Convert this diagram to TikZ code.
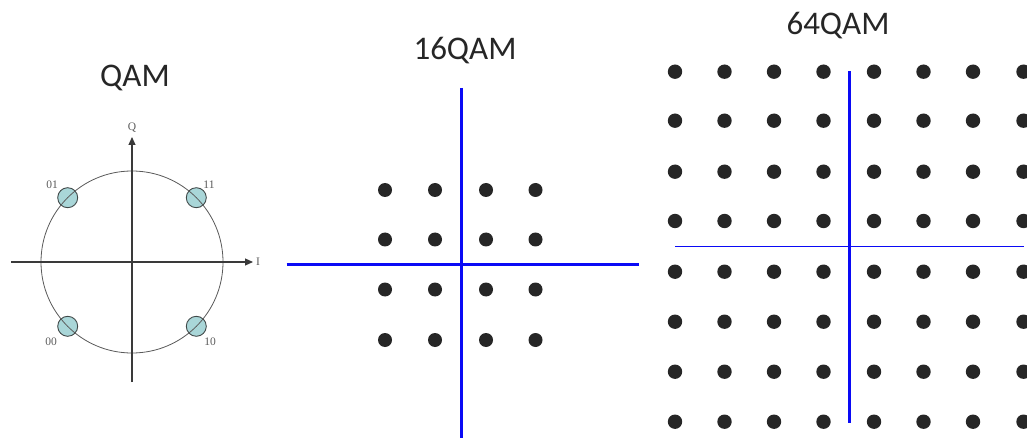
\documentclass[tikz,border=0pt]{standalone}
\usepackage{fontspec}
\setmainfont{Carlito}
\newfontfamily\lblfont{Liberation Serif}
\usetikzlibrary{arrows.meta}
\definecolor{txt}{HTML}{262626}
\definecolor{dotc}{HTML}{262626}
\definecolor{axisg}{HTML}{3A3A3A}
\definecolor{circg}{HTML}{5A5A5A}
\definecolor{markf}{HTML}{A9D6D8}
\definecolor{markd}{HTML}{404848}
\definecolor{qblue}{RGB}{10,10,245}
\tikzset{
  title/.style={anchor=base, text=txt, font=\fontsize{33}{33}\selectfont, inner sep=0pt},
  bitlbl/.style={text=circg, font=\lblfont\fontsize{11.5}{11.5}\selectfont, inner sep=0pt},
  axisline/.style={draw=axisg, line width=1.1pt},
  markc/.style={circle, fill=markf, draw=markd, line width=0.9pt, minimum size=20pt, inner sep=0pt},
  cdot/.style={fill=dotc},
  bluethick/.style={draw=qblue, line width=3pt},
  bluethin/.style={draw=qblue, line width=1.6pt},
}
\begin{document}
\begin{tikzpicture}[x=1pt,y=-1pt]
\clip (0,0) rectangle (1027,438);
\fill[white] (0,0) rectangle (1027,438);
% ---------- QAM ----------
\node[title] (t1) at (135,87) {QAM};
\node[markc] (m11) at (196.3,197.7) {};
\node[markc] (m01) at (67.7,197.7) {};
\node[markc] (m00) at (67.7,326.3) {};
\node[markc] (m10) at (196.3,326.3) {};
\draw[circg, line width=0.8pt] (132,262) circle (91);
\coordinate (xl) at (11,262);
\coordinate (xr) at (253,262);
\coordinate (yb) at (132,382);
\coordinate (yt) at (132,137);
\draw[axisline, -{Triangle[length=8pt,width=7pt]}] (xl) -- (xr);
\draw[axisline, -{Triangle[length=8pt,width=7pt]}] (yb) -- (yt);
\node[bitlbl] (lq) at (132,128) {Q};
\node[bitlbl] (li) at (258,262) {I};
\node[bitlbl] (l01) at (52,185) {01};
\node[bitlbl] (l11) at (209,185) {11};
\node[bitlbl] (l00) at (51,342) {00};
\node[bitlbl] (l10) at (210,342) {10};
% ---------- 16QAM ----------
\node[title] (t2) at (465,60) {16QAM};
\coordinate (v2t) at (461,88);
\coordinate (v2b) at (461,440);
\coordinate (h2l) at (286.5,264.3);
\coordinate (h2r) at (639,264.3);
\draw[bluethick] (v2t) -- (v2b);
\draw[bluethick] (h2l) -- (h2r);
\foreach \x in {385,435,486,535.5}
  \foreach \y in {190,239.5,289.5,340}
    \fill[cdot] (\x,\y) circle (7);
% ---------- 64QAM ----------
\node[title] (t3) at (838,35) {64QAM};
\foreach \x in {675,724.5,774,823.5,874,923.5,973,1023.5}
  \foreach \y in {71.7,120.7,171.7,221,271.7,321.7,371.7,421.7}
    \fill[cdot] (\x,\y) circle (7.2);
\coordinate (v3t) at (849.3,71.5);
\coordinate (v3b) at (849.3,423);
\coordinate (h3l) at (675,246.7);
\coordinate (h3r) at (1024,246.7);
\draw[bluethick] (v3t) -- (v3b);
\draw[bluethin] (h3l) -- (h3r);
\end{tikzpicture}
\end{document}
